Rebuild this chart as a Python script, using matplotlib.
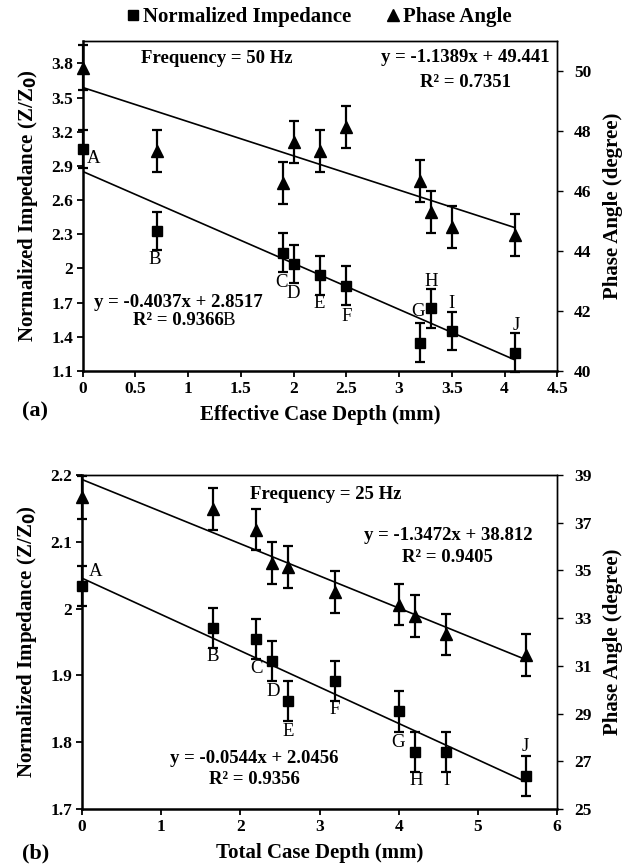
import matplotlib
matplotlib.use("Agg")
import matplotlib.pyplot as plt
from matplotlib.lines import Line2D
import numpy as np

plt.rcParams['font.family'] = ['Liberation Serif', 'DejaVu Serif']

# ---- panel (a): 50 Hz, effective case depth ----
depth_a = [0, 0.7, 1.9, 2.0, 2.25, 2.5, 3.2, 3.3, 3.5, 4.1]
imp_a = [3.05, 2.33, 2.14, 2.04, 1.94, 1.85, 1.35, 1.65, 1.45, 1.26]
imp_err_a = [0.17] * 10
phase_a = [50.1, 47.33, 46.25, 47.62, 47.33, 48.12, 46.34, 45.29, 44.80, 44.52]
phase_err_a = [0.75, 0.7, 0.7, 0.7, 0.7, 0.7, 0.7, 0.7, 0.7, 0.7]
fit_imp_a = (-0.4037, 2.8517)
fit_phase_a = (-1.1389, 49.441)

# ---- panel (b): 25 Hz, total case depth ----
depth_b = [0, 1.65, 2.2, 2.4, 2.6, 3.2, 4.0, 4.2, 4.6, 5.6]
imp_b = [2.034, 1.971, 1.954, 1.921, 1.861, 1.892, 1.846, 1.786, 1.786, 1.749]
imp_err_b = [0.03] * 10
phase_b = [38.06, 37.58, 36.71, 35.31, 35.15, 34.09, 33.57, 33.1, 32.32, 31.45]
phase_err_b = [0.9, 0.89, 0.87, 0.87, 0.87, 0.87, 0.87, 0.87, 0.87, 0.87]
fit_imp_b = (-0.0544, 2.0456)
fit_phase_b = (-1.3472, 38.812)

letters = list("ABCDEFGHIJ")
# label positions (data coords of left axis)
lab_a = [(0.10, 2.965), (0.686, 2.075), (1.887, 1.881), (2.0, 1.782), (2.243, 1.692),
         (2.503, 1.578), (3.176, 1.622), (3.30, 1.89), (3.50, 1.694), (4.108, 1.495)]
lab_b = [(0.177, 2.056), (1.652, 1.928), (2.2, 1.911), (2.41, 1.876), (2.60, 1.8165),
         (3.195, 1.849), (3.99, 1.80), (4.22, 1.743), (4.60, 1.743), (5.60, 1.794)]

TICK = 12.5
LAB = 15
ANN = 13.5


def style(ax, axr):
    for s in ['left', 'bottom']:
        ax.spines[s].set_linewidth(1.8)
    for s in ['top', 'right']:
        ax.spines[s].set_linewidth(1.0)
        axr.spines[s].set_linewidth(1.0)
    axr.spines['left'].set_visible(False)
    axr.spines['bottom'].set_visible(False)
    ax.tick_params(direction='out', length=4, width=1.3, labelsize=TICK, pad=3)
    axr.tick_params(direction='out', length=4, width=1.0, labelsize=TICK, pad=8)
    for lab in ax.get_xticklabels() + ax.get_yticklabels() + axr.get_yticklabels():
        lab.set_fontweight('bold')


def noclip(cont):
    arts = [cont[0]] + list(cont[1]) + list(cont[2])
    for a in arts:
        a.set_clip_on(False)


def panel(ax, x, imp, ie, ph, pe, fi, fp, xlim, ylim, yrlim, xt, yt, yrt, labs):
    axr = ax.twinx()
    c1 = ax.errorbar(x, imp, yerr=ie, fmt='s', color='black', ms=7, capsize=3.5,
                     elinewidth=1.6, capthick=1.6, zorder=3)
    c2 = axr.errorbar(x, ph, yerr=pe, fmt='^', color='black', ms=8.5, capsize=3.5,
                      elinewidth=1.6, capthick=1.6, zorder=3)
    noclip(c1)
    noclip(c2)
    xx = np.array([0, max(x)])
    ax.plot(xx, fi[0] * xx + fi[1], color='black', lw=1.2)
    axr.plot(xx, fp[0] * xx + fp[1], color='black', lw=1.2)
    ax.set_xlim(*xlim)
    ax.set_ylim(*ylim)
    axr.set_ylim(*yrlim)
    ax.set_xticks(xt)
    ax.set_xticklabels(['{:g}'.format(v) for v in xt])
    ax.set_yticks(yt)
    ax.set_yticklabels(['{:g}'.format(round(v, 2)) for v in yt])
    axr.set_yticks(yrt)
    axr.set_yticklabels(['{:g}'.format(v) for v in yrt])
    for l, (lx, ly) in zip(letters, labs):
        ax.text(lx, ly, l, fontsize=ANN, ha='center', va='center')
    ax.set_ylabel('Normalized Impedance (Z/Z$_\\mathbf{0}$)', fontsize=LAB,
                  fontweight='bold', labelpad=8)
    axr.set_ylabel('Phase Angle (degree)', fontsize=LAB, fontweight='bold', labelpad=8)
    style(ax, axr)
    return axr


fig = plt.figure(figsize=(6.28, 8.67), dpi=100)

ax1 = fig.add_axes([0.1317, 0.5721, 0.7557, 0.381])
panel(ax1, depth_a, imp_a, imp_err_a, phase_a, phase_err_a, fit_imp_a, fit_phase_a,
      (0, 4.5), (1.1, 4.0), (40, 51), np.arange(0, 4.51, 0.5),
      np.arange(1.1, 3.81, 0.3), np.arange(40, 51, 2), lab_a)
ax1.set_xlabel('Effective Case Depth (mm)', fontsize=LAB, fontweight='bold', labelpad=6)
ax1.text(1.275, 3.845, 'Frequency = 50 Hz', fontsize=ANN, fontweight='bold', ha='center', va='center')
ax1.text(3.625, 3.855, 'y = -1.1389x + 49.441', fontsize=ANN, fontweight='bold', ha='center', va='center')
ax1.text(3.625, 3.63, 'R² = 0.7351', fontsize=ANN, fontweight='bold', ha='center', va='center')
ax1.text(0.906, 1.70, 'y = -0.4037x + 2.8517', fontsize=ANN, fontweight='bold', ha='center', va='center')
ax1.text(0.906, 1.539, 'R² = 0.9366', fontsize=ANN, fontweight='bold', ha='center', va='center')
ax1.text(1.38, 1.539, 'B', fontsize=ANN, ha='center', va='center')
fig.text(22 / 628, 1 - 411 / 867, '(a)', fontsize=16, fontweight='bold', ha='left', va='center')

ax2 = fig.add_axes([0.1306, 0.0669, 0.7567, 0.3852])
panel(ax2, depth_b, imp_b, imp_err_b, phase_b, phase_err_b, fit_imp_b, fit_phase_b,
      (0, 6), (1.7, 2.2), (25, 39), np.arange(0, 7, 1),
      np.arange(1.7, 2.21, 0.1), np.arange(25, 40, 2), lab_b)
ax2.set_xlabel('Total Case Depth (mm)', fontsize=LAB, fontweight='bold', labelpad=6)
ax2.text(3.08, 2.171, 'Frequency = 25 Hz', fontsize=ANN, fontweight='bold', ha='center', va='center')
ax2.text(4.62, 2.109, 'y = -1.3472x + 38.812', fontsize=ANN, fontweight='bold', ha='center', va='center')
ax2.text(4.62, 2.076, 'R² = 0.9405', fontsize=ANN, fontweight='bold', ha='center', va='center')
ax2.text(2.17, 1.775, 'y = -0.0544x + 2.0456', fontsize=ANN, fontweight='bold', ha='center', va='center')
ax2.text(2.18, 1.744, 'R² = 0.9356', fontsize=ANN, fontweight='bold', ha='center', va='center')
fig.text(22 / 628, 1 - 853 / 867, '(b)', fontsize=16, fontweight='bold', ha='left', va='center')

handles = [Line2D([], [], marker='s', ls='none', color='black', ms=7),
           Line2D([], [], marker='^', ls='none', color='black', ms=8.5)]
fig.legend(handles, ['Normalized Impedance', 'Phase Angle'], loc='center',
           bbox_to_anchor=(0.505, 1 - 17 / 867), ncol=2, frameon=False,
           prop={'size': LAB, 'weight': 'bold'}, handletextpad=0.0, columnspacing=1.5,
           handlelength=1.0)

fig.savefig('out.png', dpi=100)
